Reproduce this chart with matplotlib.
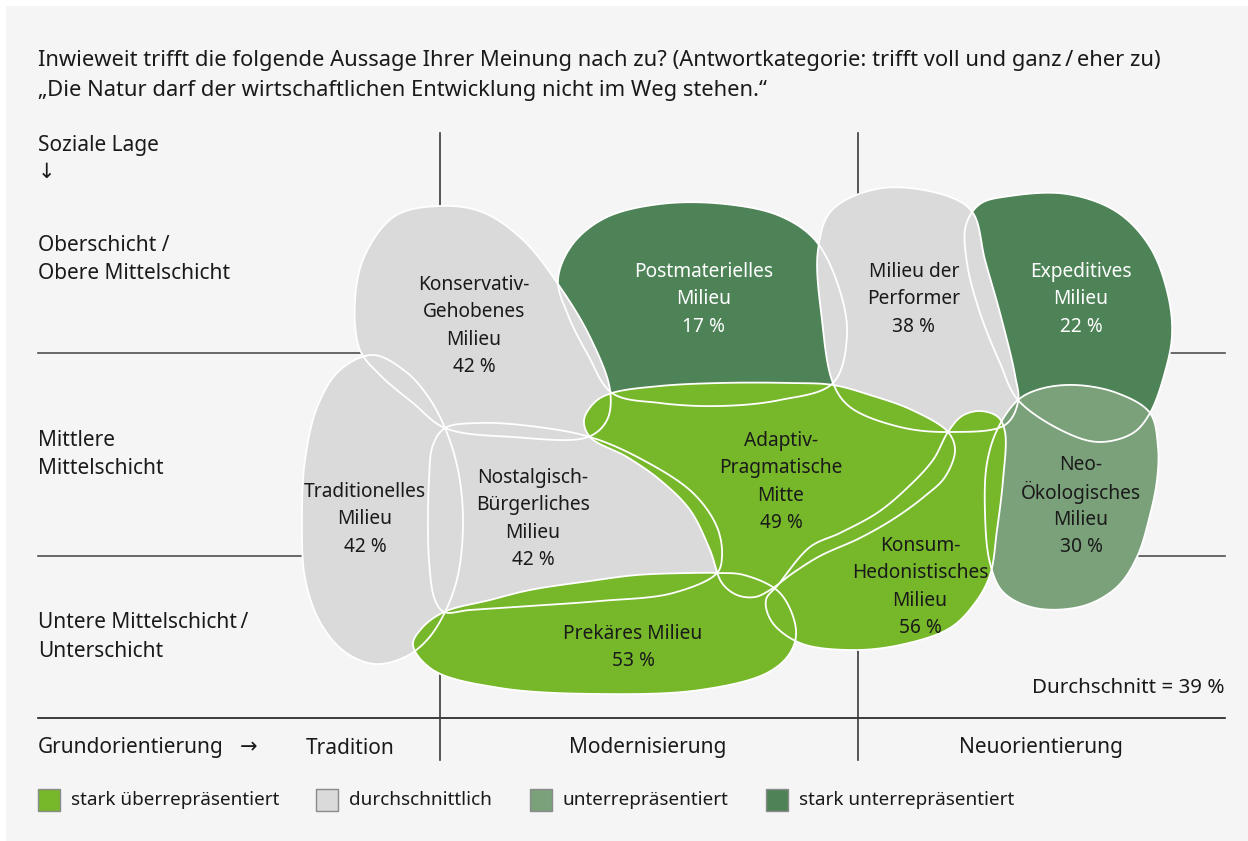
import numpy as np
import matplotlib
matplotlib.use("Agg")
import matplotlib.pyplot as plt
from matplotlib.patches import Polygon, Rectangle

plt.rcParams['font.family'] = ['Noto Sans', 'DejaVu Sans']

# ---------------- data ----------------
title_lines = [
    "Inwieweit trifft die folgende Aussage Ihrer Meinung nach zu? (Antwortkategorie: trifft voll und ganz\u2009/\u2009eher zu)",
    "\u201eDie Natur darf der wirtschaftlichen Entwicklung nicht im Weg stehen.\u201c",
]
milieu_names = [
    "Postmaterielles Milieu", "Expeditives Milieu", "Traditionelles Milieu",
    "Konservativ-Gehobenes Milieu", "Nostalgisch-Bürgerliches Milieu",
    "Milieu der Performer", "Neo-Ökologisches Milieu",
    "Adaptiv-Pragmatische Mitte", "Konsum-Hedonistisches Milieu", "Prekäres Milieu",
]
milieu_label_lines = [
    ["Postmaterielles", "Milieu"], ["Expeditives", "Milieu"], ["Traditionelles", "Milieu"],
    ["Konservativ-", "Gehobenes", "Milieu"], ["Nostalgisch-", "Bürgerliches", "Milieu"],
    ["Milieu der", "Performer"], ["Neo-", "Ökologisches", "Milieu"],
    ["Adaptiv-", "Pragmatische", "Mitte"], ["Konsum-", "Hedonistisches", "Milieu"],
    ["Prekäres Milieu"],
]
milieu_values = [17, 22, 42, 42, 42, 38, 30, 49, 56, 53]
categories = ["stark überrepräsentiert", "durchschnittlich", "unterrepräsentiert", "stark unterrepräsentiert"]
milieu_category = [3, 3, 1, 1, 1, 1, 2, 0, 0, 0]
average_value = 39
social_labels = ["Oberschicht /\nObere Mittelschicht", "Mittlere\nMittelschicht",
                 "Untere Mittelschicht\u2009/\nUnterschicht"]
orientation_labels = ["Tradition", "Modernisierung", "Neuorientierung"]

# ---------------- style / layout ----------------
cat_colors = ["#76b82a", "#dadada", "#7ba17b", "#4e8357"]
text_dark = "#1a1a1a"
line_col = "#505050"

# blob outlines (layout, pixel space)
shapes = [
    # Postmateriell
    [(612,393),(588,355),(568,315),(558,280),(572,245),(605,218),(660,204),(725,204),(780,216),(815,240),
     (838,285),(847,335),(833,383),(780,400),(720,406),(660,403)],
    # Expeditiv
    [(980,204),(1010,196),(1067,194),(1117,212),(1150,247),(1168,295),(1172,335),(1165,372),(1150,413),
     (1133,433),(1100,442),(1067,433),(1018,400),(1000,363),(980,313),(967,263),(966,225)],
    # Traditionell
    [(373,355),(405,371),(427,395),(445,428),(458,470),(463,520),(458,575),(445,612),(427,640),(405,657),
     (375,664),(345,652),(320,622),(305,578),(302,520),(305,460),(318,405),(340,370)],
    # Konservativ
    [(440,206),(482,212),(523,240),(560,287),(590,337),(610,390),(607,420),(588,437),(513,437),(445,428),
     (413,403),(380,375),(360,350),(355,300),(365,255),(395,216)],
    # Nostalgisch
    [(445,428),(480,423),(530,426),(590,437),(643,460),(693,493),(717,527),(722,556),(717,573),(673,593),
     (600,601),(530,606),(470,610),(444,612),(435,600),(429,560),(429,480),(433,445)],
    # Performer
    [(833,383),(822,320),(818,250),(832,210),(883,188),(950,197),(973,213),(985,260),(1000,313),
     (1015,375),(1018,402),(1005,425),(950,432),(900,427),(850,407)],
    # Neo
    [(1018,400),(1040,389),(1075,385),(1117,393),(1150,413),(1158,447),(1157,480),(1150,515),(1137,557),
     (1117,587),(1083,606),(1035,608),(1003,592),(990,563),(985,513),(987,463),(998,428)],
    # Adaptiv
    [(612,393),(660,386),(720,383),(790,383),(833,385),(870,395),(912,410),(948,432),(955,450),(945,477),
     (925,496),(895,518),(860,538),(820,556),(793,573),(770,590),(755,597),(737,595),(722,583),(710,550),
     (690,510),(660,480),(627,457),(590,437),(584,420),(595,402)],
    # Konsum
    [(948,432),(962,416),(980,411),(998,417),(1005,432),(1003,480),(997,530),(990,575),(975,603),(950,628),
     (900,645),(850,650),(800,643),(772,622),(766,600),(778,585),(810,547),(840,533),(877,513),(905,490),
     (933,460)],
    # Prekär
    [(444,612),(490,600),(530,590),(590,581),(637,575),(690,573),(717,573),(744,575),(780,593),(796,630),
     (790,653),(767,673),(700,690),(600,694),(500,688),(433,670),(413,645),(422,628)],
]
label_pos = [(704,272),(1081,272),(365,492),(474,285),(533,478),(914,272),(1081,465),(781,441),(920,546),(633,634)]
line_step = 27.3
fs_label = 13.8
fs_axis = 15.0


def catmull_rom_closed(pts, n=24, alpha=0.5):
    P = np.asarray(pts, float)
    m = len(P)
    out = []
    for i in range(m):
        p0, p1, p2, p3 = P[(i - 1) % m], P[i], P[(i + 1) % m], P[(i + 2) % m]
        def tj(ti, a, b):
            return ti + max(np.linalg.norm(b - a), 1e-6) ** alpha
        t0 = 0.0
        t1 = tj(t0, p0, p1)
        t2 = tj(t1, p1, p2)
        t3 = tj(t2, p2, p3)
        t = np.linspace(t1, t2, n, endpoint=False)[:, None]
        A1 = (t1 - t) / (t1 - t0) * p0 + (t - t0) / (t1 - t0) * p1
        A2 = (t2 - t) / (t2 - t1) * p1 + (t - t1) / (t2 - t1) * p2
        A3 = (t3 - t) / (t3 - t2) * p2 + (t - t2) / (t3 - t2) * p3
        B1 = (t2 - t) / (t2 - t0) * A1 + (t - t0) / (t2 - t0) * A2
        B2 = (t3 - t) / (t3 - t1) * A2 + (t - t1) / (t3 - t1) * A3
        C = (t2 - t) / (t2 - t1) * B1 + (t - t1) / (t2 - t1) * B2
        out.append(C)
    return np.vstack(out)


fig = plt.figure(figsize=(12.48, 8.41), dpi=100)
fig.patch.set_facecolor("white")
ax = fig.add_axes([0, 0, 1, 1])
ax.set_xlim(0, 1248)
ax.set_ylim(841, 0)
ax.axis("off")

ax.add_patch(Rectangle((6, 6), 1248, 841, facecolor="#f5f5f5", edgecolor="none", zorder=0))

# grid lines
ax.plot([38, 1225], [353, 353], color=line_col, lw=1.2, zorder=1)
ax.plot([38, 1225], [556, 556], color=line_col, lw=1.2, zorder=1)
ax.plot([38, 1225], [718, 718], color="#1e1e1e", lw=1.2, zorder=1)
ax.plot([440, 440], [133, 760], color="#3a3a3a", lw=1.2, zorder=1)
ax.plot([858, 858], [133, 760], color="#3a3a3a", lw=1.2, zorder=1)

curves = [catmull_rom_closed(s) for s in shapes]
for k, c in enumerate(curves):
    ax.add_patch(Polygon(c, closed=True, facecolor=cat_colors[milieu_category[k]],
                         edgecolor="none", zorder=2 + k * 0.01))
for c in curves:
    ax.add_patch(Polygon(c, closed=True, facecolor="none", edgecolor="white", lw=1.3, zorder=3))

for k, lines in enumerate(milieu_label_lines):
    x, y = label_pos[k]
    col = "white" if milieu_category[k] == 3 else text_dark
    allines = lines + [f"{milieu_values[k]} %"]
    for i, t in enumerate(allines):
        ax.text(x, y + i * line_step, t, ha="center", va="center", fontsize=fs_label, color=col, zorder=4)

# title
for i, t in enumerate(title_lines):
    ax.text(38, 60 + i * 30, t, ha="left", va="center", fontsize=15.8, color=text_dark)

# left axis
ax.text(38, 145, "Soziale Lage", ha="left", va="center", fontsize=fs_axis, color=text_dark)
ax.text(38, 172, "\u2193", ha="left", va="center", fontsize=fs_axis, color=text_dark)
for t, y in zip(social_labels, [245, 440, 623]):
    for i, ln in enumerate(t.split("\n")):
        ax.text(38, y + i * 28.5, ln, ha="left", va="center", fontsize=fs_axis, color=text_dark)

ax.text(38, 748, "Grundorientierung", ha="left", va="center", fontsize=fs_axis, color=text_dark)
ax.text(240, 748, "\u2192", ha="left", va="center", fontsize=fs_axis, color=text_dark)
for t, x in zip(orientation_labels, [350, 648, 1041]):
    ax.text(x, 748, t, ha="center", va="center", fontsize=fs_axis, color=text_dark)

ax.text(1225, 688, f"Durchschnitt = {average_value} %", ha="right", va="center", fontsize=14.8, color=text_dark)

# legend
leg_x = [38, 316, 530, 766]
for k, (cat, x) in enumerate(zip(categories, leg_x)):
    ax.add_patch(Rectangle((x, 789), 22, 22, facecolor=cat_colors[k], edgecolor="#8a8a8a", lw=1.0, zorder=2))
    ax.text(x + 33, 800, cat, ha="left", va="center", fontsize=13.6, color=text_dark)

fig.savefig("out.png", dpi=100, facecolor="white")
